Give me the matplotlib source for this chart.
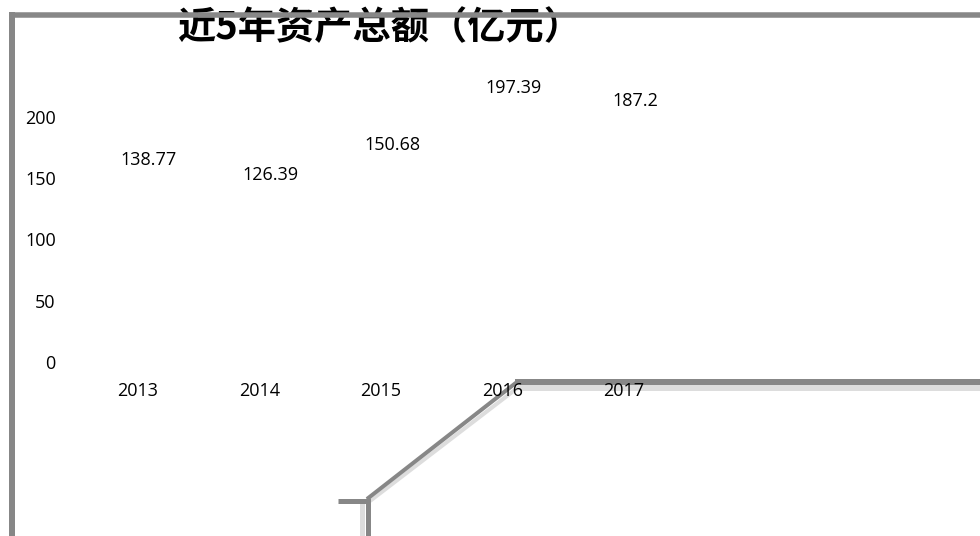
import matplotlib
matplotlib.use("Agg")
from matplotlib import pyplot as plt
from matplotlib.lines import Line2D

# data
years = ['2013', '2014', '2015', '2016', '2017']
assets = [138.77, 126.39, 150.68, 197.39, 187.2]
yticks = [0, 50, 100, 150, 200]
title = '近5年资产总额（亿元）'

W, H = 980, 536
DARK = '#878787'
LIGHT = '#dddddd'

plt.rcParams['font.family'] = ['Open Sans', 'DejaVu Sans']

Figure = plt.figure(figsize=(W / 100, H / 100), dpi=100)
# axes placed so that categories sit at ~138..624 px and 0..200 spans 362..117 px
Graph = Figure.add_axes([77.25 / W, (H - 362) / H, 607.5 / W, 245 / H])
Graph.patch.set_alpha(0)

x = range(len(years))
bars = Graph.bar(x, assets, width=0.6, color='none')
for i, v in zip(x, assets):
    Graph.annotate(f'{v:g}', xy=(i, v), xytext=(11, 32), textcoords='offset pixels',
                   ha='center', va='center', fontsize=13, annotation_clip=False)

Graph.set_xlim(-0.5, len(years) - 0.5)
Graph.set_ylim(0, 200)
Graph.set_xticks(list(x))
Graph.set_xticklabels(years, fontsize=13)
Graph.set_yticks(yticks)
Graph.set_yticklabels([str(t) for t in yticks], fontsize=13)
Graph.tick_params(axis='x', length=0, pad=14.5)
Graph.tick_params(axis='y', length=0, pad=15.5)
for s in Graph.spines.values():
    s.set_visible(False)

Figure.text(177 / W, 1 - 28 / H, title, ha='left', va='center', fontsize=27.5,
            fontweight='bold', family=['Noto Sans CJK SC', 'DejaVu Sans'], zorder=3)


# leftover outline pieces of the original chart box (pixel coords)
def seg(xs, ys, color, lw_px, z=10):
    ln = Line2D([v / W for v in xs], [1 - v / H for v in ys], transform=Figure.transFigure,
                color=color, linewidth=lw_px * 0.72, solid_capstyle='butt', zorder=z)
    Figure.add_artist(ln)


seg([12, 12], [12, H], DARK, 6)
seg([9, W], [14.5, 14.5], DARK, 5.5)
# the broken connector sits under the year labels
seg([520, W], [388, 388], LIGHT, 6, -1)
seg([515, W], [382, 382], DARK, 6, -1)
seg([362, 362], [503, H], LIGHT, 5, -1)
seg([370, 520], [501, 386], LIGHT, 4, -1)
seg([367, 517], [499, 382], DARK, 4, -1)
seg([338, 367], [501, 501], DARK, 5, -1)
seg([367.5, 367.5], [498, H], DARK, 5, -1)

Figure.savefig('out.png', dpi=100)
